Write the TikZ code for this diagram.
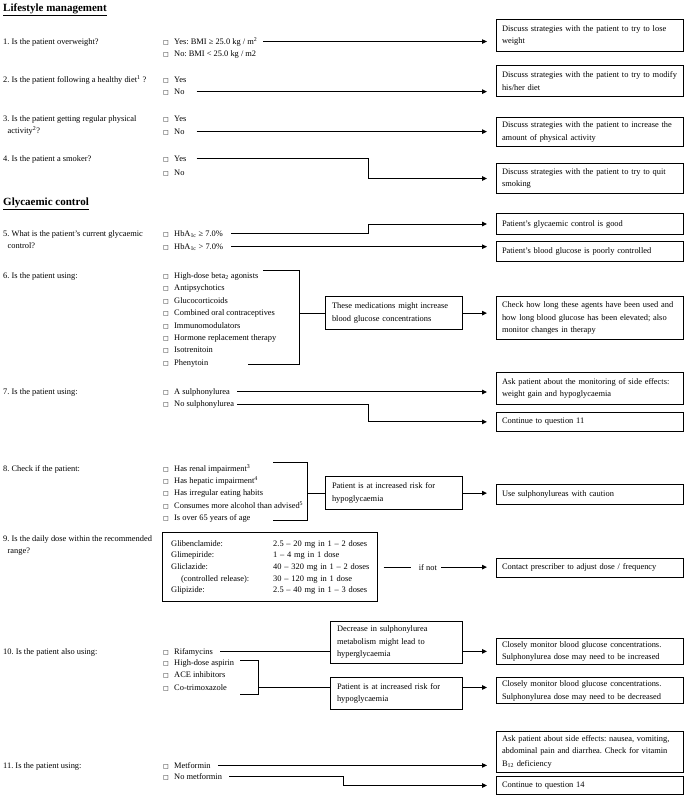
\documentclass[tikz,border=0pt]{standalone}
\usepackage{fontspec}
\setmainfont{Liberation Serif}
\newfontfamily\boxglyph{DejaVu Sans}
\usepackage{tikz}
\usetikzlibrary{
	arrows.meta,
	positioning
}
\frenchspacing
\newcommand{\chk}{\makebox[11pt][l]{\boxglyph\fontsize{6}{6}\selectfont □}}

\begin{document}
\begin{tikzpicture}[x=1pt, y=-1pt,
		every node/.style={font=\fontsize{8.4}{12.5}\selectfont},
		head/.style={anchor=base west, inner sep=0, font=\fontsize{11}{13}\selectfont\bfseries},
		qtext/.style={anchor=base west, inner sep=0, align=left},
		opt/.style={anchor=base west, inner sep=0},
		rbox/.style={draw, line width=1pt, anchor=north west, text width=176pt, inner xsep=5.5pt, inner ysep=3pt, align=left},
		mbox/.style={draw, line width=1pt, anchor=north west, text width=124pt, inner xsep=6.5pt, inner ysep=3pt, align=left},
		link/.style={line width=1pt},
		arr/.style={line width=1pt, -{Triangle[length=5pt,width=4.5pt]}, shorten >=9pt}]
		\useasboundingbox (0,0) rectangle (685,804);
		% lifestyle
		\node[head] (h1) at (3,11) {\underline{Lifestyle management}};
		\node[qtext] (q1) at (3,44) {1. Is the patient overweight?};
		\node[opt] (o1a) at (163,44) {\chk Yes: BMI ≥ 25.0 kg / m\textsuperscript{2}};
		\node[opt] (o1b) at (163,56.5) {\chk No: BMI < 25.0 kg / m2};
		\node[qtext] (q2) at (3,82) {2. Is the patient following a healthy diet\textsuperscript{1} ?};
		\node[opt] (o2a) at (163,82) {\chk Yes};
		\node[opt] (o2b) at (163,94) {\chk No};
		\node[qtext] (q3) at (3,133.5) {3. Is the patient getting regular physical\\\hspace*{4.5pt}activity\textsuperscript{2}?};
		\node[opt] (o3a) at (163,121) {\chk Yes};
		\node[opt] (o3b) at (163,134) {\chk No};
		\node[qtext] (q4) at (3,161) {4. Is the patient a smoker?};
		\node[opt] (o4a) at (163,161) {\chk Yes};
		\node[opt] (o4b) at (163,175) {\chk No};
		\node[rbox, minimum height=31.7pt] (b1) at (496,19) {Discuss strategies with the patient to try to lose\\weight};
		\node[rbox, minimum height=30.7pt] (b2) at (496,65) {\mbox{Discuss strategies with the patient to try to modify}\\his/her diet};
		\node[rbox, minimum height=29pt] (b3) at (496,117) {Discuss strategies with the patient to increase the\\amount of physical activity};
		\node[rbox, minimum height=30pt] (b4) at (496,163) {Discuss strategies with the patient to try to quit\\smoking};
		\coordinate (kx) at (368,0);
		\draw[arr] ([xshift=6pt]o1a.east) -- (o1a.east -| b1.west);
		\draw[arr] ([xshift=12pt]o2b.east) -- (o2b.east -| b2.west);
		\draw[arr] ([xshift=12pt]o3b.east) -- (o3b.east -| b3.west);
		\draw[arr] ([xshift=10pt]o4a.east) -- (o4a.east -| kx) |- (b4.west);
		% glycaemic control
		\node[head] (h2) at (3,205.5) {\underline{Glycaemic control}};
		\node[qtext] (q5) at (3,248.5) {5. What is the patient's current glycaemic\\\hspace*{4.5pt}control?};
		\node[opt] (o5a) at (163,236) {\chk HbA\textsubscript{1c} ≥ 7.0\%};
		\node[opt] (o5b) at (163,249) {\chk HbA\textsubscript{1c} > 7.0\%};
		\node[rbox, minimum height=21pt] (b5a) at (496,213) {Patient's glycaemic control is good};
		\node[rbox, minimum height=20pt] (b5b) at (496,240.7) {Patient's blood glucose is poorly controlled};
		\draw[arr] ([xshift=8pt]o5a.east) -- (o5a.east -| kx) |- (b5a.west);
		\draw[arr] ([xshift=8pt]o5b.east) -- (o5b.east -| b5b.west);
		% question 6
		\node[qtext] (q6) at (3,278.6) {6. Is the patient using:};
		\node[opt] (o6a) at (163,278.6) {\chk High-dose beta\textsubscript{2} agonists};
		\node[opt] (o6b) at (163,290.9) {\chk Antipsychotics};
		\node[opt] (o6c) at (163,303.3) {\chk Glucocorticoids};
		\node[opt] (o6d) at (163,315.6) {\chk Combined oral contraceptives};
		\node[opt] (o6e) at (163,328) {\chk Immunomodulators};
		\node[opt] (o6f) at (163,340.3) {\chk Hormone replacement therapy};
		\node[opt] (o6g) at (163,352.7) {\chk Isotrenitoin};
		\node[opt] (o6h) at (163,365) {\chk Phenytoin};
		\node[mbox, minimum height=33.3pt] (m6) at (325,296) {These medications might increase\\blood glucose concentrations};
		\node[rbox, minimum height=43pt] (b6) at (496,296) {Check how long these agents have been used and\\how long blood glucose has been elevated; also\\monitor changes in therapy};
		\coordinate (k6a) at (263,270);
		\coordinate (k6c) at (299,364);
		\coordinate (k6d) at (248,364);
		\draw[link] (k6a) -| (k6c) -- (k6d);
		\draw[link] (m6.west -| k6c) -- (m6.west);
		\draw[arr] (m6.east) -- (m6.east -| b6.west);
		% question 7
		\node[qtext] (q7) at (3,394) {7. Is the patient using:};
		\node[opt] (o7a) at (163,394) {\chk A sulphonylurea};
		\node[opt] (o7b) at (163,406.5) {\chk No sulphonylurea};
		\node[rbox, minimum height=32.3pt] (b7a) at (496,371.7) {Ask patient about the monitoring of side effects:\\weight gain and hypoglycaemia};
		\node[rbox, minimum height=19.3pt] (b7b) at (496,411.7) {Continue to question 11};
		\draw[arr] ([xshift=7pt]o7a.east) -- (o7a.east -| b7a.west);
		\draw[arr] ([xshift=3pt]o7b.east) -- (o7b.east -| kx) |- (b7b.west);
		% question 8
		\node[qtext] (q8) at (3,471) {8. Check if the patient:};
		\node[opt] (o8a) at (163,471) {\chk Has renal impairment\textsuperscript{3}};
		\node[opt] (o8b) at (163,483.4) {\chk Has hepatic impairment\textsuperscript{4}};
		\node[opt] (o8c) at (163,495.7) {\chk Has irregular eating habits};
		\node[opt] (o8d) at (163,508) {\chk Consumes more alcohol than advised\textsuperscript{5}};
		\node[opt] (o8e) at (163,520.3) {\chk Is over 65 years of age};
		\node[mbox, minimum height=33.3pt] (m8) at (325,476) {Patient is at increased risk for\\hypoglycaemia};
		\node[rbox, minimum height=20pt] (b8) at (496,484) {Use sulphonylureas with caution};
		\coordinate (k8a) at (273,462);
		\coordinate (k8c) at (307,520);
		\coordinate (k8d) at (273,520);
		\draw[link] (k8a) -| (k8c) -- (k8d);
		\draw[link] (m8.west -| k8c) -- (m8.west);
		\draw[arr] (m8.east) -- (m8.east -| b8.west);
		% question 9
		\node[qtext] (q9) at (3,553.5) {9. Is the daily dose within the recommended\\\hspace*{4.5pt}range?};
		\node[draw, line width=1pt, anchor=north west, text width=197.6pt, inner xsep=8.4pt, inner ysep=2pt, minimum height=68.7pt, align=left] (d9) at (162.3,532.3) {\fontsize{8.4}{11.6}\selectfont
			\begin{tabular}{@{}p{102pt}@{}l@{}}
				Glibenclamide: & 2.5 – 20 mg in 1 – 2 doses\\
				Glimepiride: & 1 – 4 mg in 1 dose\\
				Gliclazide: & 40 – 320 mg in 1 – 2 doses\\
				\hspace*{10pt}(controlled release): & 30 – 120 mg in 1 dose\\
				Glipizide: & 2.5 – 40 mg in 1 – 3 doses
		\end{tabular}};
		\node[right=41pt of d9, inner sep=0] (ifnot) {if not};
		\node[rbox, minimum height=19pt] (b9) at (496,557.5) {Contact prescriber to adjust dose / frequency};
		\draw[link] ([xshift=6pt]d9.east) -- ([xshift=-8pt]ifnot.west);
		\draw[arr] ([xshift=4pt]ifnot.east) -- (ifnot.east -| b9.west);
		% question 10
		\node[qtext] (q10) at (3,654) {10. Is the patient also using:};
		\node[opt] (o10a) at (163,654) {\chk Rifamycins};
		\node[opt] (o10b) at (163,665.5) {\chk High-dose aspirin};
		\node[opt] (o10c) at (163,677.5) {\chk ACE inhibitors};
		\node[opt] (o10d) at (163,690) {\chk Co-trimoxazole};
		\node[mbox, text width=119pt, minimum height=41.7pt] (m10a) at (330,621) {Decrease in sulphonylurea\\metabolism might lead to\\hyperglycaemia};
		\node[mbox, text width=119pt, minimum height=32.3pt] (m10b) at (330,676.7) {Patient is at increased risk for\\hypoglycaemia};
		\node[rbox, minimum height=26.3pt] (b10a) at (496,637.7) {Closely monitor blood glucose concentrations.\\Sulphonylurea dose may need to be increased};
		\node[rbox, minimum height=24.4pt] (b10b) at (496,677.3) {Closely monitor blood glucose concentrations.\\Sulphonylurea dose may need to be decreased};
		\draw[link] ([xshift=7pt]o10a.east) -- (o10a.east -| m10a.west);
		\draw[arr] (b10a.west -| m10a.east) -- (b10a.west);
		\coordinate (k10a) at (240,660);
		\coordinate (k10c) at (258,694);
		\coordinate (k10d) at (240,694);
		\draw[link] (k10a) -| (k10c) -- (k10d);
		\draw[link] (o10d.east -| k10c) -- (o10d.east -| m10b.west);
		\draw[arr] (o10d.east -| m10b.east) -- (o10d.east -| b10b.west);
		% question 11
		\node[qtext] (q11) at (3,768) {11. Is the patient using:};
		\node[opt] (o11a) at (163,768) {\chk Metformin};
		\node[opt] (o11b) at (163,779) {\chk No metformin};
		\node[rbox, minimum height=41pt] (b11a) at (496,730.7) {Ask patient about side effects: nausea, vomiting,\\abdominal pain and diarrhea. Check for vitamin\\B\textsubscript{12} deficiency};
		\node[rbox, minimum height=18pt] (b11b) at (496,776) {Continue to question 14};
		\coordinate (kx11) at (343,0);
		\draw[arr] ([xshift=7pt]o11a.east) -- (o11a.east -| b11a.west);
		\draw[arr] ([xshift=7pt]o11b.east) -- (o11b.east -| kx11) |- (b11b.west);
\end{tikzpicture}
\end{document}
